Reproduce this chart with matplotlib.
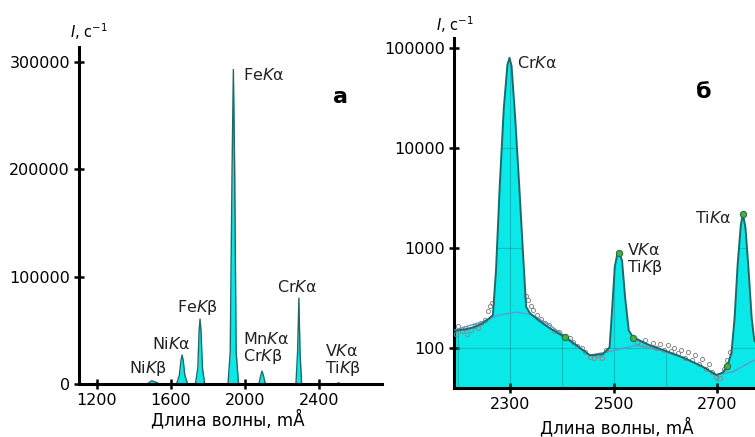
import matplotlib.pyplot as plt
from matplotlib.ticker import FixedLocator, NullLocator, FuncFormatter

# panel a: spectrum (wavelength mA, intensity 1/s)
wl_a = [1103, 1470, 1482, 1495, 1505, 1520, 1540, 1630, 1645, 1654, 1660, 1666, 1675, 1690,
        1732, 1745, 1752, 1757, 1762, 1770, 1782, 1908, 1920, 1930, 1937, 1944, 1952, 1965,
        2075, 2085, 2092, 2099, 2110, 2275, 2284, 2291, 2297, 2306, 2495, 2505, 2515, 2730]
I_a = [0, 0, 1200, 3000, 2500, 1500, 0, 0, 8000, 22000, 27000, 22000, 8000, 0,
       0, 15000, 50000, 60500, 50000, 15000, 0, 0, 30000, 200000, 293000, 200000, 30000, 0,
       0, 8000, 12000, 8000, 0, 0, 30000, 80000, 30000, 0, 0, 1200, 0, 0]
labels_a = ['Fe$\\mathit{K}$α', 'Fe$\\mathit{K}$β', 'Ni$\\mathit{K}$α', 'Ni$\\mathit{K}$β',
            'Mn$\\mathit{K}$α', 'Cr$\\mathit{K}$β', 'Cr$\\mathit{K}$α', 'V$\\mathit{K}$α', 'Ti$\\mathit{K}$β']
lab_x_a = [1989, 1632, 1497, 1373, 1989, 1989, 2173, 2432, 2432]
lab_y_a = [288000, 71700, 37300, 14000, 41900, 25200, 90400, 30700, 14900]

# panel b: fitted spectrum, background, measured points
wl_b = [2192, 2200, 2215, 2230, 2248, 2258, 2267, 2273, 2280, 2288, 2295, 2299, 2303, 2310,
        2318, 2325, 2331, 2338, 2355, 2377, 2406, 2430, 2454, 2479, 2492, 2497, 2502, 2507,
        2511, 2516, 2522, 2529, 2537, 2569, 2600, 2633, 2670, 2698, 2710, 2719, 2727, 2733,
        2739, 2745, 2749, 2754, 2760, 2766, 2771, 2782]
I_b = [150, 151, 155, 162, 178, 195, 214, 600, 4000, 25000, 68000, 80000, 66000, 20000,
       4000, 900, 260, 225, 190, 158, 129, 105, 85, 87, 102, 250, 650, 880,
       900, 750, 320, 150, 129, 107, 94, 81, 66, 54, 57, 66, 90, 200,
       700, 1700, 2200, 1600, 600, 200, 120, 100]
wl_bg = [2192, 2248, 2280, 2313, 2344, 2380, 2409, 2454, 2492, 2544, 2590, 2633, 2670, 2698,
         2729, 2771, 2782]
I_bg = [151, 185, 215, 229, 214, 165, 129, 85, 93, 107, 95, 80, 66, 54, 58, 76, 80]
wl_pts = [2195, 2200, 2207, 2213, 2218, 2225, 2232, 2238, 2245, 2252, 2258, 2262, 2266,
          2330, 2335, 2340, 2345, 2352, 2360, 2368, 2375, 2385, 2395, 2402, 2415, 2422,
          2430, 2438, 2445, 2455, 2462, 2470, 2478, 2485,
          2545, 2552, 2560, 2567, 2575, 2582, 2590, 2597, 2604, 2610, 2617, 2624, 2630,
          2637, 2644, 2650, 2657, 2664, 2670, 2677, 2684, 2690, 2697, 2705, 2712, 2718, 2724]
I_pts = [140, 165, 150, 160, 140, 152, 168, 160, 178, 190, 235, 265, 285,
         330, 300, 262, 240, 215, 195, 180, 170, 150, 146, 132, 125, 116,
         106, 100, 92, 82, 80, 85, 80, 96,
         116, 110, 120, 104, 113, 100, 110, 95, 108, 94, 100, 90, 96,
         80, 92, 76, 86, 70, 78, 62, 70, 58, 52, 50, 62, 76, 92]
wl_mark = [2406, 2537, 2719, 2510, 2750]
I_mark = [129, 125, 66, 900, 2200]
labels_b = ['Cr$\\mathit{K}$α', 'V$\\mathit{K}$α', 'Ti$\\mathit{K}$β', 'Ti$\\mathit{K}$α']
lab_x_b = [2313, 2525, 2525, 2656]
lab_y_b = [70800, 955, 646, 2000]

fill_c = '#0ae8e8'
edge_c = '#1d6a6a'
W, H = 755, 437
FS = 11.5

fig = plt.figure(figsize=(W / 100, H / 100), dpi=100)


def box(x0, y0, x1, y1):
    # pixel box -> figure fraction
    return [x0 / W, 1 - y1 / H, (x1 - x0) / W, (y1 - y0) / H]


def style(ax):
    for s in ['top', 'right']:
        ax.spines[s].set_visible(False)
    for s in ['left', 'bottom']:
        ax.spines[s].set_linewidth(2.2)
    ax.tick_params(direction='inout', length=7, width=1.8, labelsize=FS, pad=3)


# ---- panel a ----
ax1 = fig.add_axes(box(79, 47, 382, 384))
ax1.fill_between(wl_a, I_a, 0, color=fill_c, lw=0)
ax1.plot(wl_a, I_a, color=edge_c, lw=1.0)
ax1.set_xlim(1103, 2740)
ax1.set_ylim(0, 314000)
ax1.xaxis.set_major_locator(FixedLocator([1200, 1600, 2000, 2400]))
ax1.yaxis.set_major_locator(FixedLocator([0, 100000, 200000, 300000]))
style(ax1)
for t, x, y in zip(labels_a, lab_x_a, lab_y_a):
    ax1.text(x, y, t, fontsize=FS, ha='left', va='center', color='#222222')

# ---- panel b ----
ax2 = fig.add_axes(box(454, 38, 760, 388))
ax2.set_yscale('log')
poly = ax2.fill_between(wl_b, I_b, 1, color=fill_c, lw=0, zorder=1)
# grid shows mostly inside the filled area
grid = []
for g in [2200, 2300, 2400, 2500, 2600, 2700]:
    grid.append(ax2.axvline(g, color='#138c8c', lw=0.8, alpha=0.45, zorder=2))
for g in [100, 1000, 10000]:
    grid.append(ax2.axhline(g, color='#138c8c', lw=0.8, alpha=0.45, zorder=2))
for ln in grid:
    ln.set_clip_path(poly.get_paths()[0], poly.get_transform())
ax2.plot(wl_bg, I_bg, color='#5b9bd5', lw=1.0, zorder=3)
ax2.plot(wl_pts, I_pts, 'o', ms=3, mfc='none', mec='#8a8a8a', mew=0.7, zorder=3)
ax2.plot(wl_b, I_b, color=edge_c, lw=1.4, zorder=4)
ax2.plot(wl_mark, I_mark, 'o', ms=4.5, mfc='#44b04a', mec='#2d6f3a', mew=0.8, zorder=5)
ax2.set_xlim(2192, 2782)
ax2.set_ylim(40, 126000)
ax2.xaxis.set_major_locator(FixedLocator([2300, 2500, 2700]))
ax2.yaxis.set_major_locator(FixedLocator([100, 1000, 10000, 100000]))
ax2.yaxis.set_minor_locator(NullLocator())
ax2.yaxis.set_major_formatter(FuncFormatter(lambda v, p: '%d' % v))
style(ax2)
for t, x, y in zip(labels_b, lab_x_b, lab_y_b):
    ax2.text(x, y, t, fontsize=FS, ha='left', va='center', color='#222222', zorder=6)

# axis titles and panel letters
ylab = '$\\mathit{I}$, с$^{-1}$'
fig.text(89 / W, 1 - 32 / H, ylab, fontsize=FS - 1, ha='center', va='center')
fig.text(455 / W, 1 - 25 / H, ylab, fontsize=FS - 1, ha='center', va='center')
xlab = 'Длина волны, mÅ'
fig.text(228 / W, 1 - 420 / H, xlab, fontsize=FS + 0.5, ha='center', va='center')
fig.text(617 / W, 1 - 427 / H, xlab, fontsize=FS + 0.5, ha='center', va='center')
fig.text(340 / W, 1 - 97 / H, 'а', fontsize=16, fontweight='bold', ha='center', va='center')
fig.text(704 / W, 1 - 92 / H, 'б', fontsize=16, fontweight='bold', ha='center', va='center')

fig.savefig('out.png', dpi=100)
